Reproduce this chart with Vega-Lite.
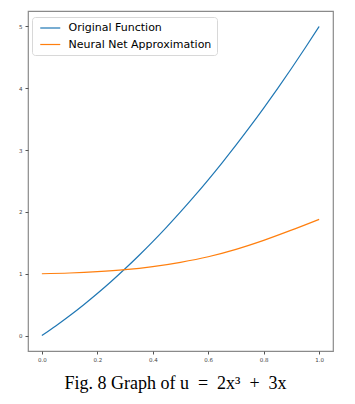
{
  "$schema": "https://vega.github.io/schema/vega-lite/v6.json",
  "width": 305,
  "height": 340,
  "autosize": {"type": "none"},
  "padding": {"left": 28, "top": 11, "right": 22, "bottom": 53},
  "background": "white",
  "config": {
    "view": {"stroke": "#8a8a8a", "strokeWidth": 1.2},
    "axis": {
      "domain": false,
      "grid": false,
      "ticks": true,
      "tickColor": "#555",
      "tickSize": 3,
      "labelFont": "DejaVu Sans",
      "labelFontSize": 5.5,
      "labelColor": "#444",
      "labelPadding": 3,
      "title": null
    }
  },
  "title": {
    "text": "Fig. 8 Graph of u\u2002=\u20022x³\u2002+\u20023x",
    "orient": "bottom",
    "anchor": "middle",
    "font": "Liberation Serif",
    "fontSize": 18,
    "fontWeight": "normal",
    "color": "#000",
    "offset": 12,
    "dx": -5
  },
  "data": {
    "values": [
      {"x": 0.0, "y": 0.0, "s": "Original Function"},
      {"x": 0.05, "y": 0.155, "s": "Original Function"},
      {"x": 0.1, "y": 0.32, "s": "Original Function"},
      {"x": 0.15, "y": 0.495, "s": "Original Function"},
      {"x": 0.2, "y": 0.68, "s": "Original Function"},
      {"x": 0.25, "y": 0.875, "s": "Original Function"},
      {"x": 0.3, "y": 1.08, "s": "Original Function"},
      {"x": 0.35, "y": 1.295, "s": "Original Function"},
      {"x": 0.4, "y": 1.52, "s": "Original Function"},
      {"x": 0.45, "y": 1.755, "s": "Original Function"},
      {"x": 0.5, "y": 2.0, "s": "Original Function"},
      {"x": 0.55, "y": 2.255, "s": "Original Function"},
      {"x": 0.6, "y": 2.52, "s": "Original Function"},
      {"x": 0.65, "y": 2.795, "s": "Original Function"},
      {"x": 0.7, "y": 3.08, "s": "Original Function"},
      {"x": 0.75, "y": 3.375, "s": "Original Function"},
      {"x": 0.8, "y": 3.68, "s": "Original Function"},
      {"x": 0.85, "y": 3.995, "s": "Original Function"},
      {"x": 0.9, "y": 4.32, "s": "Original Function"},
      {"x": 0.95, "y": 4.655, "s": "Original Function"},
      {"x": 1.0, "y": 5.0, "s": "Original Function"},
      {"x": 0.0, "y": 1.0, "s": "Neural Net Approximation"},
      {"x": 0.1, "y": 1.012, "s": "Neural Net Approximation"},
      {"x": 0.2, "y": 1.033, "s": "Neural Net Approximation"},
      {"x": 0.3, "y": 1.065, "s": "Neural Net Approximation"},
      {"x": 0.4, "y": 1.115, "s": "Neural Net Approximation"},
      {"x": 0.5, "y": 1.185, "s": "Neural Net Approximation"},
      {"x": 0.6, "y": 1.275, "s": "Neural Net Approximation"},
      {"x": 0.7, "y": 1.395, "s": "Neural Net Approximation"},
      {"x": 0.8, "y": 1.54, "s": "Neural Net Approximation"},
      {"x": 0.9, "y": 1.705, "s": "Neural Net Approximation"},
      {"x": 1.0, "y": 1.88, "s": "Neural Net Approximation"}
    ]
  },
  "mark": {"type": "line", "strokeWidth": 1.2, "interpolate": "monotone"},
  "encoding": {
    "x": {
      "field": "x",
      "type": "quantitative",
      "scale": {"domain": [-0.05, 1.05], "nice": false, "zero": false},
      "axis": {"values": [0, 0.2, 0.4, 0.6, 0.8, 1.0], "format": ".1f"}
    },
    "y": {
      "field": "y",
      "type": "quantitative",
      "scale": {"domain": [-0.25, 5.25], "nice": false, "zero": false},
      "axis": {"values": [0, 1, 2, 3, 4, 5], "format": "d"}
    },
    "color": {
      "field": "s",
      "type": "nominal",
      "sort": ["Original Function", "Neural Net Approximation"],
      "scale": {
        "domain": ["Original Function", "Neural Net Approximation"],
        "range": ["#1f77b4", "#ff7f0e"]
      },
      "legend": {
        "title": null,
        "orient": "none",
        "legendX": 4,
        "legendY": 6,
        "padding": 5,
        "fillColor": "white",
        "strokeColor": "#d8d8d8",
        "cornerRadius": 3,
        "symbolType": "M-0.55,0H3.45",
        "symbolSize": 100,
        "symbolStrokeWidth": 1.2,
        "labelFont": "DejaVu Sans",
        "labelFontSize": 11,
        "labelColor": "#000",
        "labelOffset": 19.5,
        "rowPadding": 5.5
      }
    }
  }
}
